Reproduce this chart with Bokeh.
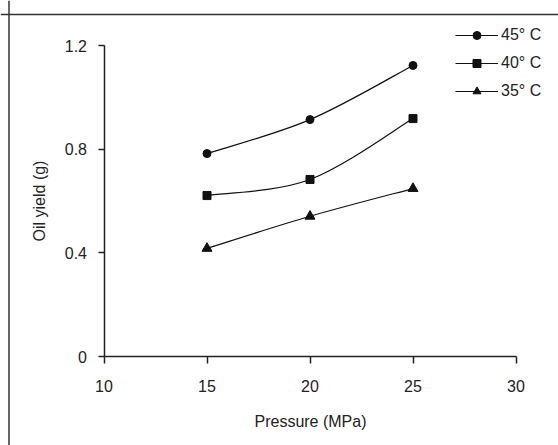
from bokeh.plotting import figure
from bokeh.models import Range1d, FixedTicker, Legend, LegendItem, Span, ColumnDataSource
from bokeh.embed import file_html
from bokeh.resources import INLINE

# ---- data ----
pressure = [15, 20, 25]
yield_45 = [0.783, 0.914, 1.123]
yield_40 = [0.621, 0.683, 0.918]
yield_35 = [0.417, 0.541, 0.648]
series_labels = ["45° C", "40° C", "35° C"]
x_ticks = [10, 15, 20, 25, 30]
y_ticks = [0, 0.4, 0.8, 1.2]
y_tick_labels = ["0", "0.4", "0.8", "1.2"]
x_axis_span = (10, 30)
y_axis_span = (0, 1.2)

# ---- layout (canvas pixels) ----
W, H = 558, 445
X_AXIS_LEFT_PX = 103.5     # canvas x where pressure = 10
X_AXIS_RIGHT_PX = 515.5    # canvas x where pressure = 30
Y_ZERO_PX = 356.0          # canvas y where yield = 0
Y_TOP_PX = 45.0            # canvas y where yield = 1.2
BORDER_TOP_PX = 14
BORDER_LEFT_PX = 8.5

FONT = "Liberation Sans"
INK = "#111111"
TXT = "#222222"

xs = (X_AXIS_RIGHT_PX - X_AXIS_LEFT_PX) / (x_axis_span[1] - x_axis_span[0])
ys = (Y_ZERO_PX - Y_TOP_PX) / (y_axis_span[1] - y_axis_span[0])
x_start = x_axis_span[0] - X_AXIS_LEFT_PX / xs
x_end = x_axis_span[0] + (W - X_AXIS_LEFT_PX) / xs
y_end = y_axis_span[0] + Y_ZERO_PX / ys
y_start = y_axis_span[0] - (H - Y_ZERO_PX) / ys

p = figure(width=W, height=H, x_range=Range1d(x_start, x_end), y_range=Range1d(y_start, y_end),
           output_backend="svg", toolbar_location=None,
           min_border=0, min_border_left=0, min_border_right=0, min_border_top=0, min_border_bottom=0)
p.outline_line_color = None
p.xgrid.visible = False
p.ygrid.visible = False
p.background_fill_color = "white"
p.border_fill_color = "white"

# outer chart-area border (top and left edges visible in the window)
p.add_layout(Span(location=y_end - BORDER_TOP_PX / ys, dimension="width", line_color="#333333", line_width=1.5))
p.add_layout(Span(location=x_start + BORDER_LEFT_PX / xs, dimension="height", line_color="#333333", line_width=1.5))


def smooth_segments(xv, yv):
    """Excel-like smoothed line: cubic bezier control points (Catmull-Rom) from the data."""
    n = len(xv)
    d = dict(x0=[], y0=[], x1=[], y1=[], cx0=[], cy0=[], cx1=[], cy1=[])
    for i in range(n - 1):
        xa, ya = (xv[i - 1], yv[i - 1]) if i > 0 else (xv[i], yv[i])
        xb, yb = (xv[i + 2], yv[i + 2]) if i + 2 < n else (xv[i + 1], yv[i + 1])
        d["x0"].append(xv[i]); d["y0"].append(yv[i])
        d["x1"].append(xv[i + 1]); d["y1"].append(yv[i + 1])
        d["cx0"].append(xv[i] + (xv[i + 1] - xa) / 6)
        d["cy0"].append(yv[i] + (yv[i + 1] - ya) / 6)
        d["cx1"].append(xv[i + 1] - (xb - xv[i]) / 6)
        d["cy1"].append(yv[i + 1] - (yb - yv[i]) / 6)
    return ColumnDataSource(d)


markers = ["circle", "square", "triangle"]
sizes = [8, 8, 10]
items = []
for vals, lab, mk, sz in zip([yield_45, yield_40, yield_35], series_labels, markers, sizes):
    src = smooth_segments(pressure, vals)
    bz = p.bezier(x0="x0", y0="y0", x1="x1", y1="y1", cx0="cx0", cy0="cy0", cx1="cx1", cy1="cy1",
                  source=src, line_color=INK, line_width=1.2)
    sc = p.scatter(pressure, vals, marker=mk, size=sz, fill_color=INK, line_color=INK)
    items.append(LegendItem(label=lab, renderers=[bz, sc]))

# legend: left edge at canvas x 455, top at canvas y ~25
legend = Legend(items=items, location=(455, H - 25 - 76), glyph_width=43, glyph_height=20,
                label_height=20, spacing=8, padding=0, margin=0, label_standoff=3,
                border_line_color=None, background_fill_alpha=0,
                label_text_font=FONT, label_text_font_size="16px", label_text_color=TXT)
p.add_layout(legend, "center")

for ax in (p.xaxis[0], p.yaxis[0]):
    ax.axis_line_color = "#222222"
    ax.axis_line_width = 1.5
    ax.major_tick_line_color = "#222222"
    ax.major_tick_line_width = 1.5
    ax.major_tick_out = 6
    ax.major_tick_in = 0
    ax.minor_tick_line_color = None
    ax.major_label_text_font = FONT
    ax.major_label_text_font_size = "16px"
    ax.major_label_text_color = TXT
    ax.axis_label_text_font = FONT
    ax.axis_label_text_font_style = "normal"
    ax.axis_label_text_font_size = "16px"
    ax.axis_label_text_color = TXT

p.xaxis[0].fixed_location = y_axis_span[0]
p.xaxis[0].bounds = x_axis_span
p.xaxis[0].ticker = FixedTicker(ticks=x_ticks)
p.xaxis[0].axis_label = "Pressure (MPa)"
p.xaxis[0].major_tick_out = 7
p.xaxis[0].major_label_standoff = 16
p.xaxis[0].axis_label_standoff = 18

p.yaxis[0].fixed_location = x_axis_span[0]
p.yaxis[0].bounds = y_axis_span
p.yaxis[0].ticker = FixedTicker(ticks=y_ticks)
p.yaxis[0].major_label_overrides = {t: l for t, l in zip(y_ticks, y_tick_labels)}
p.yaxis[0].axis_label = "Oil yield (g)"
p.yaxis[0].major_label_standoff = 11
p.yaxis[0].axis_label_standoff = 14

open("out.html", "w").write(file_html(p, INLINE))
